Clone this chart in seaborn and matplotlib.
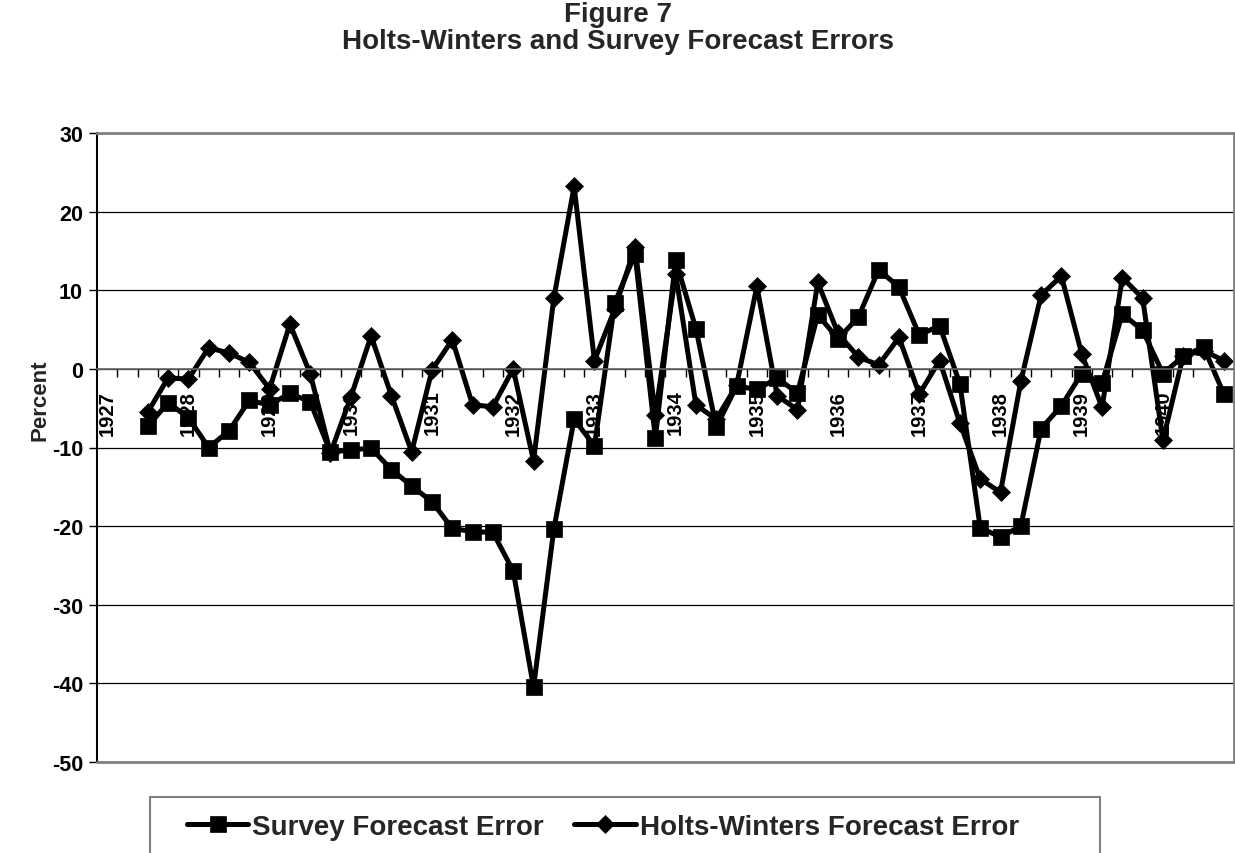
import numpy as np
import pandas as pd
import matplotlib
matplotlib.use("Agg")
import matplotlib.pyplot as plt
import seaborn as sns
from matplotlib.patches import Rectangle

# quarterly categories, one label per year
years = [str(y) for y in range(1927, 1941)]
first_slot = 2  # series start in the third quarterly slot

survey = [-7.3, -4.3, -6.2, -10.0, -7.9, -4.0, -4.6, -3.1, -4.2, -10.6,
          -10.3, -10.1, -12.8, -14.9, -16.9, -20.3, -20.7, -20.8, -25.7, -40.5,
          -20.4, -6.4, -9.8, 8.4, 14.6, -8.8, 13.8, 5.1, -7.4, -2.2,
          -2.6, -1.2, -3.05, 6.9, 3.8, 6.6, 12.6, 10.4, 4.3, 5.5,
          -1.9, -20.2, -21.4, -20.0, -7.6, -4.7, -0.6, -1.8, 7.0, 4.9,
          -0.6, 1.6, 2.8, -3.2]

holts = [-5.5, -1.15, -1.3, 2.7, 2.0, 0.85, -2.55, 5.7, -0.6, -10.7,
         -3.6, 4.2, -3.4, -10.55, -0.13, 3.7, -4.6, -4.8, 0.0, -11.7,
         9.0, 23.2, 1.06, 7.6, 15.5, -5.85, 12.1, -4.6, -6.4, -2.1,
         10.5, -3.4, -5.2, 11.0, 4.5, 1.5, 0.5, 4.0, -3.2, 1.06,
         -6.9, -14.0, -15.7, -1.6, 9.4, 11.8, 1.9, -4.9, 11.6, 9.0,
         -9.1, 1.7, 2.3, 1.06]

sns.set_theme(style="white")
plt.rcParams["font.family"] = ["Liberation Sans", "DejaVu Sans"]
plt.rcParams["font.weight"] = "bold"
plt.rcParams["axes.unicode_minus"] = False

n_cat = len(years) * 4
pos = np.arange(first_slot, first_slot + len(survey))
df = pd.DataFrame({"pos": pos, "survey": survey, "holts": holts})

W, H = 1235, 854
fig = plt.figure(figsize=(W / 100, H / 100), dpi=100)
ax = fig.add_axes([97 / W, 1 - 763 / H, 1137 / W, 629 / H])

sns.lineplot(data=df, x="pos", y="survey", ax=ax, color="black", lw=3.6,
             marker="s", markersize=11, markeredgecolor="black", markeredgewidth=0.5,
             label="Survey Forecast Error")
sns.lineplot(data=df, x="pos", y="holts", ax=ax, color="black", lw=3.6,
             marker="D", markersize=9, markeredgecolor="black", markeredgewidth=0.5,
             label="Holts-Winters Forecast Error")

ax.set_xlim(-0.5, n_cat - 0.5)
ax.set_ylim(-50, 30)
ax.set_yticks(range(-50, 31, 10))
ax.yaxis.grid(True, color="black", lw=0.9)
ax.xaxis.grid(False)
ax.set_axisbelow(True)

# x axis sits on the zero line
ax.spines["bottom"].set_position(("data", 0))
ax.spines["bottom"].set_color("#666666")
ax.spines["bottom"].set_linewidth(1.2)
ax.spines["left"].set_color("black")
ax.spines["left"].set_linewidth(1.5)
for s in ["top", "right"]:
    ax.spines[s].set_color("#808080")
    ax.spines[s].set_linewidth(2)
ax.axhline(-50, color="#808080", lw=2, zorder=5, clip_on=False)

ax.set_xticks(range(0, n_cat, 4))
ax.set_xticklabels(years, rotation=90, fontsize=14.5, fontweight="bold")
ax.set_xticks(np.arange(0.5, n_cat - 0.5, 1), minor=True)
ax.tick_params(axis="x", which="major", length=0, pad=15, colors="black")
ax.tick_params(axis="x", which="minor", bottom=True, length=6, width=1, direction="out", color="black")
ax.tick_params(axis="y", left=True, length=6, width=1, direction="out", labelsize=15.5, pad=4, colors="black")
for t in ax.get_yticklabels():
    t.set_fontweight("bold")

ax.set_xlabel("")
ax.set_ylabel("Percent", fontsize=16, fontweight="bold")
ax.yaxis.set_label_coords(-0.041, 0.577)

handles, labels = ax.get_legend_handles_labels()
ax.legend(handles, labels, loc="center left", bbox_to_anchor=(187 / W, 1 - 828 / H),
          bbox_transform=fig.transFigure, ncol=2, frameon=False, borderpad=0,
          borderaxespad=0, handlelength=2.2, handletextpad=0.15, columnspacing=1.1,
          prop={"weight": "bold", "size": 20})
fig.add_artist(Rectangle((150 / W, -0.02), 950 / W, 1 - 798 / H + 0.02,
                         transform=fig.transFigure, fill=False,
                         edgecolor="#808080", lw=1.5))

fig.text(0.5, 1 - 15 / H, "Figure 7", ha="center", va="center", fontsize=20, fontweight="bold")
fig.text(0.5, 1 - 42 / H, "Holts-Winters and Survey Forecast Errors",
         ha="center", va="center", fontsize=20, fontweight="bold")

fig.savefig("out.png", dpi=100)
